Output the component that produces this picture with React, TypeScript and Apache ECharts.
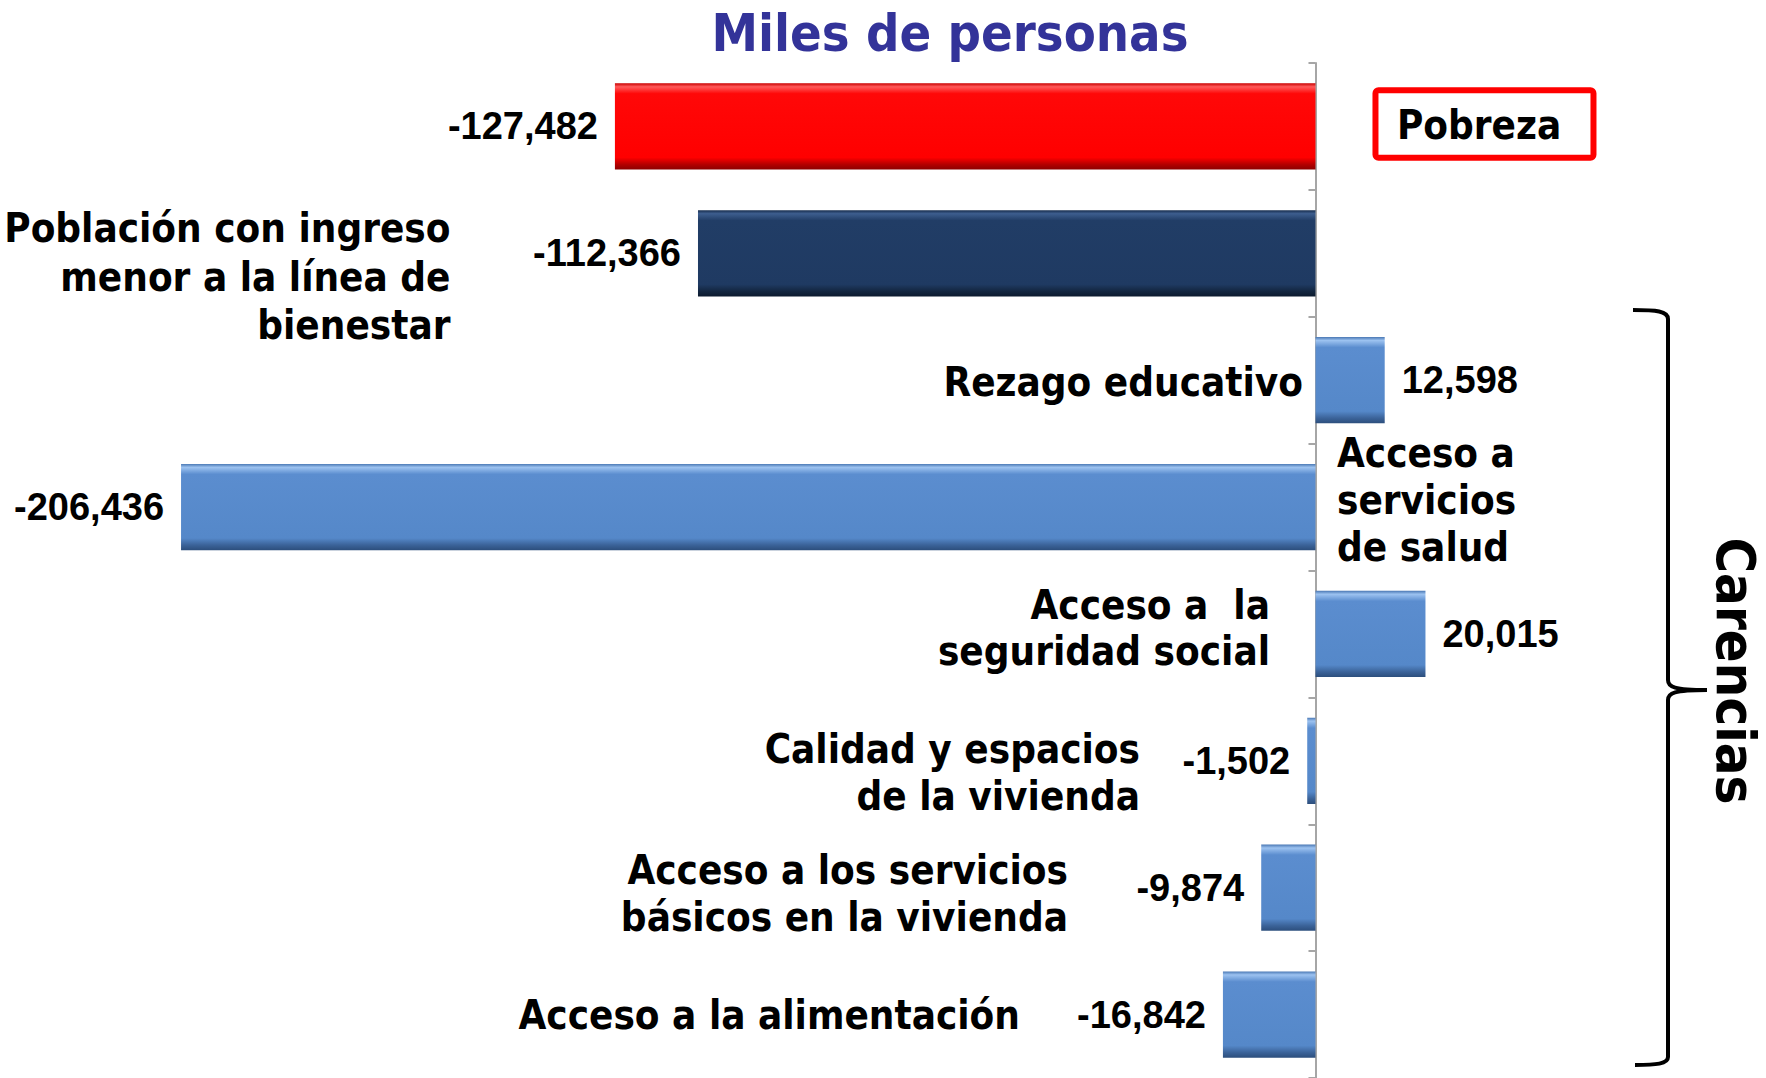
import React, { useEffect, useRef } from "react";
import * as echarts from "echarts";

// ---------- data ----------
const titleText = "Miles de personas";
const bracketLabel = "Carencias";
const categories = [
  "Pobreza",
  "Población con ingreso\nmenor a la línea de\nbienestar",
  "Rezago educativo",
  "Acceso a\nservicios\nde salud",
  "Acceso a  la\nseguridad social",
  "Calidad y espacios\nde la vivienda",
  "Acceso a los servicios\nbásicos en la vivienda",
  "Acceso a la alimentación",
];
const values = [-127482, -112366, 12598, -206436, 20015, -1502, -9874, -16842];
const barGroup = ["pobreza", "bienestar", "carencia", "carencia", "carencia", "carencia", "carencia", "carencia"];

// ---------- styles / layout ----------
const FONT = "'DejaVu Sans Condensed', 'Liberation Sans', sans-serif";
const NUM_FONT = "'Liberation Sans', Arial, sans-serif";

const palettes: Record<string, [number, string][]> = {
  pobreza: [
    [0, "#c80000"],
    [0.04, "#ff5a5a"],
    [0.12, "#ff0808"],
    [0.86, "#ff0000"],
    [0.94, "#b40000"],
    [1, "#8c0000"],
  ],
  bienestar: [
    [0, "#162c4c"],
    [0.04, "#3d5e8e"],
    [0.12, "#213d66"],
    [0.86, "#1f3a62"],
    [0.94, "#132640"],
    [1, "#0c1a2e"],
  ],
  carencia: [
    [0, "#4a78b4"],
    [0.04, "#9cc2f0"],
    [0.12, "#5b8dcf"],
    [0.86, "#5588c9"],
    [0.94, "#3b6399"],
    [1, "#2c4e7c"],
  ],
};

// offsets of category-name text from (value 0, category centre)
const nameLayout = [
  { dx: 81.5, dy: -1, align: "left", lh: 48, box: { dx: 60, dy: -36.2, w: 218, h: 67.4 } },
  { dx: -865, dy: 23.5, align: "right", lh: 48.5 },
  { dx: -12.5, dy: 2, align: "right", lh: 48 },
  { dx: 21.5, dy: -7.5, align: "left", lh: 47 },
  { dx: -45.5, dy: -5.5, align: "right", lh: 46 },
  { dx: -175.5, dy: 11.5, align: "right", lh: 47 },
  { dx: -247.5, dy: 6, align: "right", lh: 47 },
  { dx: -295.5, dy: 0, align: "right", lh: 48 },
];

const braceD =
  "M1633,310 C1656,310 1668,311 1668,319 L1668,680 C1668,687 1674,690 1707,690 C1674,690 1668,693 1668,700 L1668,1057 C1668,1064 1656,1065 1635,1065";
echarts.graphic.registerShape("brace", echarts.graphic.extendPath(braceD, {}));

const fmt = (v: number) => v.toLocaleString("en-US");

export default function App() {
  const ref = useRef<HTMLDivElement>(null);

  useEffect(() => {
    document.body.style.margin = "0";
    const chart = echarts.init(ref.current!, null, { renderer: "svg" });

    const barData = values.map((v, i) => ({
      value: v,
      itemStyle: {
        color: new echarts.graphic.LinearGradient(0, 0, 0, 1, palettes[barGroup[i]].map(([offset, color]) => ({ offset, color }))),
      },
      label: { position: v < 0 ? "left" : "right" },
    }));

    chart.setOption({
      animation: false,
      backgroundColor: "#ffffff",
      grid: { left: 106.5, right: 120.8, top: 63, height: 1019, containLabel: false },
      xAxis: {
        type: "value",
        min: -220000,
        max: 60000,
        show: false,
        splitLine: { show: false },
      },
      yAxis: {
        type: "category",
        inverse: true,
        data: categories,
        axisLine: { show: true, onZero: true, lineStyle: { color: "#a6a6a6", width: 2 } },
        axisTick: { show: true, length: 7, lineStyle: { color: "#a6a6a6", width: 2 } },
        axisLabel: { show: false },
        splitLine: { show: false },
      },
      graphic: [
        {
          type: "text",
          x: 950,
          y: 33,
          style: {
            text: titleText,
            fill: "#333399",
            fontSize: 52,
            fontWeight: "bold",
            fontFamily: FONT,
            align: "center",
            verticalAlign: "middle",
          },
        },
        {
          type: "brace",
          x: 0,
          y: 0,
          style: { stroke: "#000", lineWidth: 4, fill: "none" },
        },
        {
          type: "text",
          x: 1735,
          y: 671,
          rotation: -Math.PI / 2,
          style: {
            text: bracketLabel,
            fill: "#000",
            fontSize: 54,
            fontWeight: "bold",
            fontFamily: FONT,
            align: "center",
            verticalAlign: "middle",
            lineHeight: 54,
          },
        },
      ],
      series: [
        {
          type: "bar",
          data: barData,
          barWidth: "68%",
          label: {
            show: true,
            distance: 17,
            formatter: (p: any) => fmt(p.value),
            fontSize: 38,
            fontWeight: "bold",
            fontFamily: NUM_FONT,
            color: "#000",
          },
          z: 2,
        },
        {
          type: "custom",
          clip: false,
          silent: true,
          z: 5,
          data: categories.map((_, i) => [0, i]),
          encode: { x: 0, y: 1 },
          renderItem: (params: any, api: any) => {
            const i = params.dataIndex;
            const p = api.coord([0, i]);
            const L = nameLayout[i];
            const textEl = {
              type: "text",
              x: p[0] + L.dx,
              y: p[1] + L.dy,
              style: {
                text: categories[i],
                fill: "#000",
                fontSize: 40,
                fontWeight: "bold",
                fontFamily: FONT,
                align: L.align,
                verticalAlign: "middle",
                lineHeight: L.lh,
              },
            };
            if (L.box) {
              return {
                type: "group",
                children: [
                  {
                    type: "rect",
                    shape: { x: p[0] + L.box.dx, y: p[1] + L.box.dy, width: L.box.w, height: L.box.h, r: 3 },
                    style: { fill: "#fff", stroke: "#ff0000", lineWidth: 6 },
                  },
                  textEl,
                ],
              };
            }
            return textEl;
          },
        },
      ],
    });

    return () => chart.dispose();
  }, []);

  return <div ref={ref} style={{ position: "fixed", left: 0, top: 0, width: 1766, height: 1078 }} />;
}
